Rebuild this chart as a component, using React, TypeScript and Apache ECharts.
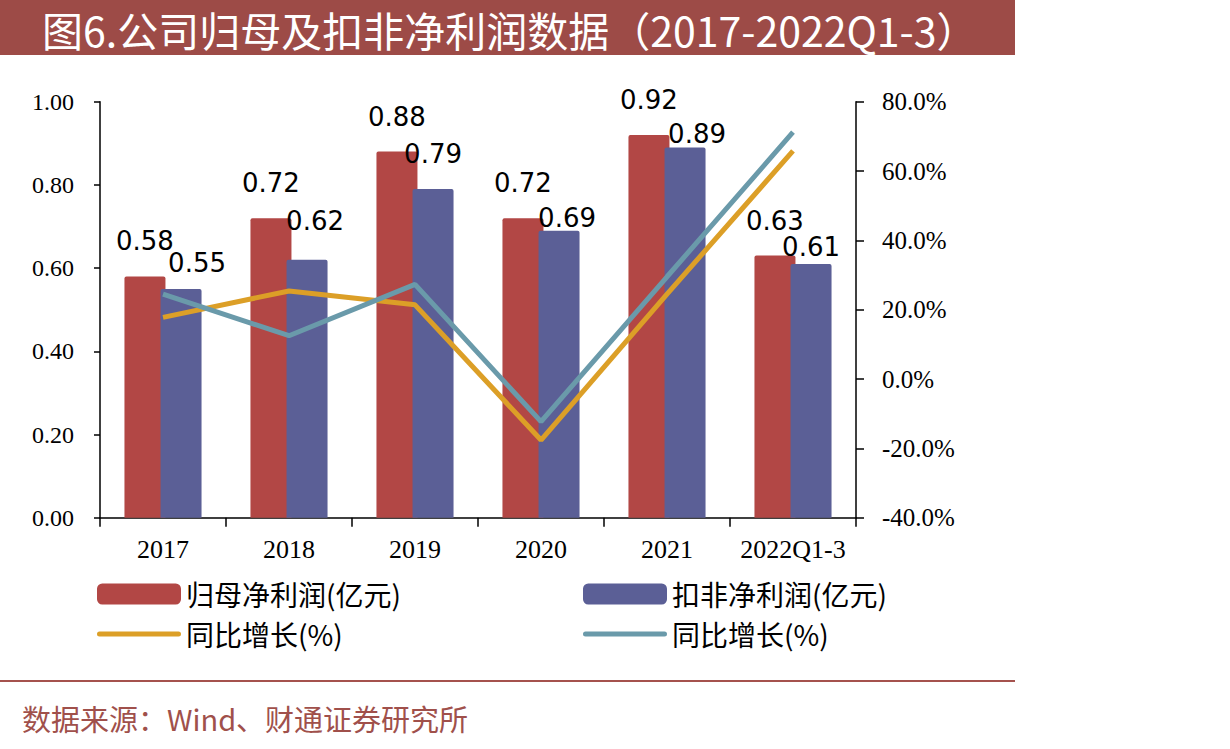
import React, { useEffect, useRef } from "react";
import * as echarts from "echarts";

const categories = ["2017", "2018", "2019", "2020", "2021", "2022Q1-3"];
const netProfit = [0.58, 0.72, 0.88, 0.72, 0.92, 0.63];
const deductedProfit = [0.55, 0.62, 0.79, 0.69, 0.89, 0.61];
const netProfitGrowth = [17.8, 25.4, 21.4, -17.6, 24.5, 65.8];
const deductedGrowth = [24.5, 12.5, 27.3, -12.3, 29.5, 71.2];

const leftAxis = { min: 0, max: 1, interval: 0.2 };
const rightAxis = { min: -40, max: 80, interval: 20 };

// label nudges (style only) for the second bar series
const blueLabelNudge = [
  [16, -13],
  [8, -26],
  [0, -22],
  [8, 0],
  [12, 0],
  [0, -4],
];

const titleText = "图6.公司归母及扣非净利润数据（2017-2022Q1-3）";
const sourceText = "数据来源：Wind、财通证券研究所";

const RED = "#b24745";
const BLUE = "#5b5f96";
const ORANGE = "#dc9f27";
const TEAL = "#6a9aaa";
const SERIF = "'Liberation Serif', 'Times New Roman', serif";
const CJK = "'Noto Sans CJK SC', sans-serif";
const LINE_ICON = "path://M2.5 0 H81.5 A2.5 2.5 0 0 1 81.5 5 H2.5 A2.5 2.5 0 0 1 2.5 0 Z";

export default function App() {
  const ref = useRef<HTMLDivElement>(null);
  useEffect(() => {
    document.body.style.margin = "0";
    if (!ref.current) return;
    const chart = echarts.init(ref.current, undefined, { renderer: "svg" });
    const labelFont = {
      fontFamily: "'DejaVu Sans', sans-serif",
      fontSize: 26,
      color: "#000",
    };
    chart.setOption({
      animation: false,
      backgroundColor: "#fff",
      title: {
        text: titleText,
        left: 42,
        top: 8,
        padding: 0,
        z: 6,
        textStyle: {
          color: "#fff",
          fontSize: 41,
          lineHeight: 41,
          fontWeight: "normal",
          fontFamily: CJK,
        },
      },
      graphic: [
        {
          type: "rect",
          z: 0,
          shape: { x: 0, y: 0, width: 1015, height: 55 },
          style: { fill: "#9d4b47" },
          silent: true,
        },
        {
          type: "line",
          z: 0,
          shape: { x1: 0, y1: 681, x2: 1015, y2: 681 },
          style: { stroke: "#a5524e", lineWidth: 2 },
          silent: true,
        },
        {
          type: "text",
          z: 1,
          x: 22,
          y: 718,
          style: {
            text: sourceText,
            fill: "#a0504b",
            font: `29px ${CJK}`,
            textVerticalAlign: "middle",
          },
        },
      ],
      legend: [
        {
          orient: "vertical",
          left: 97,
          top: 580,
          padding: 0,
          itemWidth: 84,
          itemHeight: 21,
          itemGap: 12,
          data: [
            { name: "归母净利润(亿元)", icon: "roundRect" },
            { name: "同比增长(%)#1", icon: LINE_ICON },
          ],
          formatter: (n: string) => n.replace(/#.*/, ""),
          textStyle: { fontSize: 28, fontFamily: CJK, color: "#000" },
        },
        {
          orient: "vertical",
          left: 583,
          top: 580,
          padding: 0,
          itemWidth: 84,
          itemHeight: 21,
          itemGap: 12,
          data: [
            { name: "扣非净利润(亿元)", icon: "roundRect" },
            { name: "同比增长(%)#2", icon: LINE_ICON },
          ],
          formatter: (n: string) => n.replace(/#.*/, ""),
          textStyle: { fontSize: 28, fontFamily: CJK, color: "#000" },
        },
      ],
      grid: { left: 100, right: 374, top: 101.7, bottom: 231.3 },
      xAxis: {
        type: "category",
        data: categories,
        axisLine: { lineStyle: { color: "#000", width: 1.5 } },
        axisTick: { show: true, length: 9, lineStyle: { color: "#000", width: 1.5 } },
        axisLabel: {
          interval: 0,
          fontFamily: SERIF,
          fontSize: 26,
          color: "#000",
          margin: 19,
        },
      },
      yAxis: [
        {
          type: "value",
          ...leftAxis,
          splitLine: { show: false },
          axisLine: { show: true, lineStyle: { color: "#000", width: 1.5 } },
          axisTick: { show: true, length: 6, lineStyle: { color: "#000", width: 1.5 } },
          axisLabel: {
            fontFamily: SERIF,
            fontSize: 24,
            color: "#000",
            margin: 26,
            formatter: (v: number) => v.toFixed(2),
          },
        },
        {
          type: "value",
          ...rightAxis,
          position: "right",
          splitLine: { show: false },
          axisLine: { show: true, lineStyle: { color: "#000", width: 1.5 } },
          axisTick: { show: true, length: 8, lineStyle: { color: "#000", width: 1.5 } },
          axisLabel: {
            fontFamily: SERIF,
            fontSize: 25,
            color: "#000",
            margin: 26,
            formatter: (v: number) => v.toFixed(1) + "%",
          },
        },
      ],
      series: [
        {
          name: "归母净利润(亿元)",
          type: "bar",
          barWidth: 41,
          barGap: "-12%",
          itemStyle: { color: RED, borderRadius: [2, 2, 0, 0] },
          label: {
            show: true,
            position: "top",
            distance: 22,
            ...labelFont,
            formatter: (p: any) => Number(p.value).toFixed(2),
          },
          data: netProfit,
        },
        {
          name: "扣非净利润(亿元)",
          type: "bar",
          barWidth: 41,
          itemStyle: { color: BLUE, borderRadius: [2, 2, 0, 0] },
          data: deductedProfit.map((v, i) => ({
            value: v,
            label: {
              show: true,
              position: "top",
              distance: 0,
              offset: blueLabelNudge[i],
              ...labelFont,
              formatter: (p: any) => Number(p.value).toFixed(2),
            },
          })),
        },
        {
          name: "同比增长(%)#1",
          type: "line",
          yAxisIndex: 1,
          symbol: "none",
          lineStyle: { color: ORANGE, width: 5 },
          itemStyle: { color: ORANGE },
          data: netProfitGrowth,
          z: 3,
        },
        {
          name: "同比增长(%)#2",
          type: "line",
          yAxisIndex: 1,
          symbol: "none",
          lineStyle: { color: TEAL, width: 5 },
          itemStyle: { color: TEAL },
          data: deductedGrowth,
          z: 4,
        },
      ],
    });
    return () => chart.dispose();
  }, []);
  return <div ref={ref} style={{ width: 1230, height: 749 }} />;
}
